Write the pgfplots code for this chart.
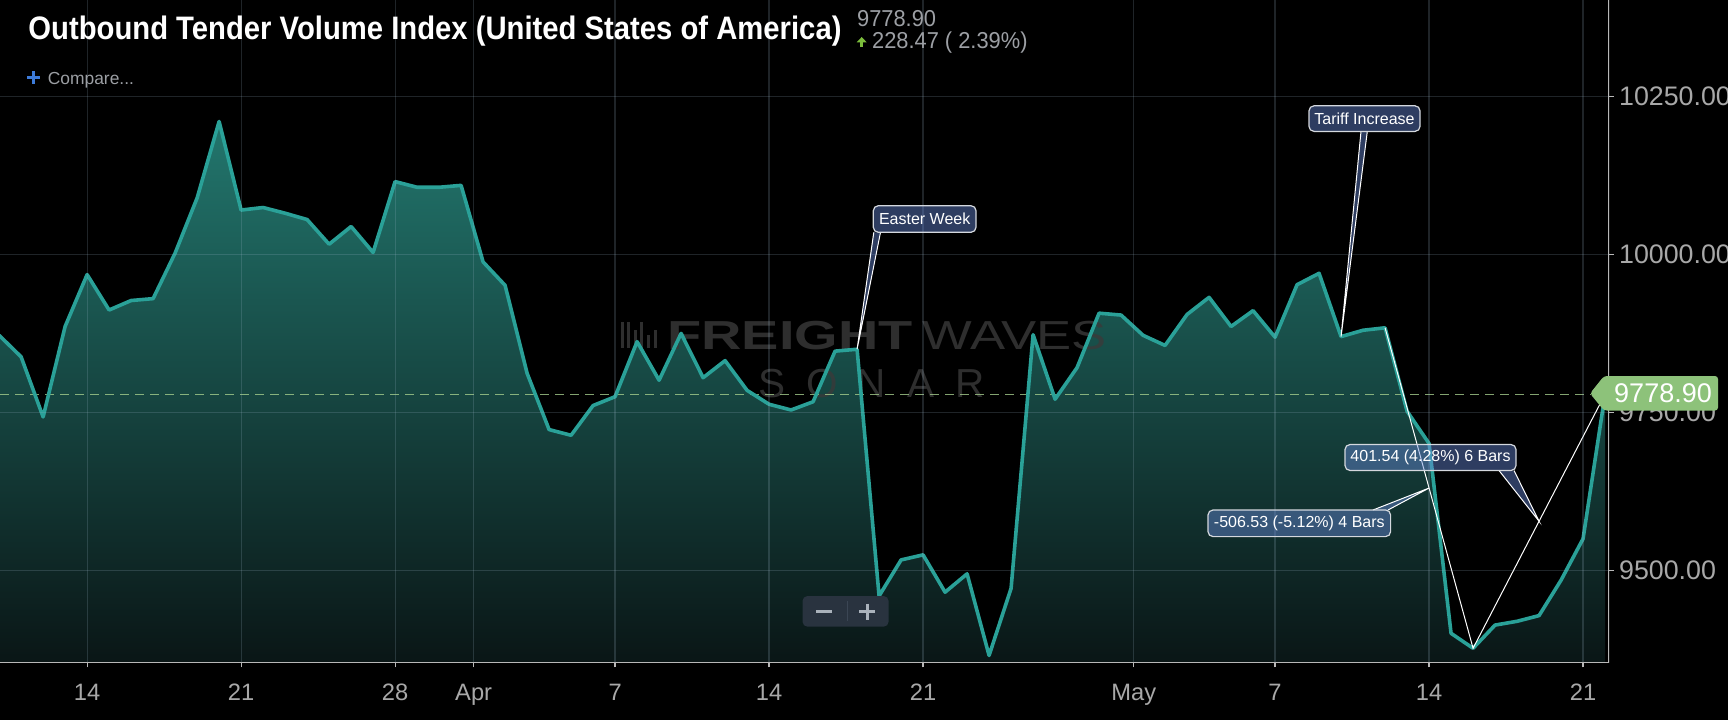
\documentclass[border=0pt]{standalone}
\usepackage{pgfplots}
\pgfplotsset{compat=1.18}
\usepackage{pgfplotstable}
\usepackage{fontspec}
\setmainfont{Liberation Sans}
\newfontfamily\titlefont[FakeStretch=0.90]{Liberation Sans}
\newfontfamily\hdrfont[FakeStretch=0.95]{Liberation Sans}
\newfontfamily\wmfontb[FakeStretch=1.38]{Liberation Sans}
\newfontfamily\wmfontr[FakeStretch=1.3]{Liberation Sans}

\definecolor{linec}{HTML}{2AA198}
\definecolor{fillTop}{HTML}{22766D}
\definecolor{fillBot}{HTML}{0A1616}
\definecolor{gridc}{HTML}{9FB8CC}
\definecolor{axisc}{HTML}{B8B8B8}
\definecolor{tickc}{HTML}{A8A8A8}
\definecolor{annot}{HTML}{6888D8}
\definecolor{annborder}{HTML}{D4D8DE}
\definecolor{priceg}{HTML}{8DC27A}
\definecolor{dashc}{HTML}{A4CC8C}
\definecolor{zoomc}{HTML}{29333F}
\definecolor{zoomsep}{HTML}{3B4654}
\definecolor{zoomsym}{HTML}{AAB2BB}
\definecolor{hdrgray}{HTML}{9C9FA4}
\definecolor{upgreen}{HTML}{7CBD3C}
\definecolor{compblue}{HTML}{3D7BD9}
\definecolor{wmc}{HTML}{3A3A3A}

\pgfplotstableread{
d v
-4 9872
-3 9838
-2 9743
-1 9886
0 9968
1 9912
2 9927
3 9930
4 10002
5 10089
6 10210
7 10070
8 10074
9 10065
10 10055
11 10016
12 10044
13 10003
14 10115
15 10106
16 10106
17 10109
18 9988
19 9951
20 9812
21 9723
22 9714
23 9761
24 9775
25 9862
26 9801
27 9875
28 9805
29 9832
30 9785
31 9763
32 9754
33 9767
34 9847
35 9850
36 9460
37 9517
38 9525
39 9466
40 9495
41 9366
42 9472
43 9873
44 9771
45 9821
46 9907
47 9904
48 9872
49 9856
50 9905
51 9932
52 9886
53 9911
54 9869
55 9952
56 9970
57 9870
58 9880
59 9883.89
60 9752
61 9701
62 9401
63 9377.36
64 9414
65 9420
66 9429
67 9485
68 9550.43
69 9778.90
}\mydata

\begin{document}
\begin{tikzpicture}
\path[use as bounding box] (0pt,0pt) rectangle (864pt,360pt);
\fill[black] (0pt,0pt) rectangle (864pt,360pt);
\begin{axis}[
  at={(0pt,28.8pt)}, anchor=south west,
  width=804.5pt, height=331.2pt, scale only axis,
  xmin=-3.96, xmax=69.18, ymin=9355, ymax=10402,
  axis line style={draw=none},
  xtick={0,7,14,17.57,24,31,38,47.58,54,61,68},
  xticklabels={14,21,28,Apr,7,14,21,May,7,14,21},
  ytick={9500,9750,10000,10250},
  yticklabels={9500.00,9750.00,10000.00,10250.00},
  xtick pos=bottom, ytick pos=right, yticklabel pos=right,
  tick align=outside, major tick length=2.5pt,
  tick style={color=axisc, line width=0.6pt},
  grid=major, major grid style={color=gridc, opacity=0.2, line width=0.6pt},
  axis on top,
  xticklabel style={font={\fontsize{11.85pt}{13pt}\selectfont}, text=tickc, anchor=north, inner sep=0pt, yshift=-8.3pt},
  yticklabel style={font={\fontsize{13.4pt}{15pt}\selectfont}, text=tickc, anchor=west, inner sep=0pt, xshift=2.35pt},
]
\addplot[draw=none, top color=fillTop, bottom color=fillBot] table[x=d,y=v]{\mydata} -- (axis cs:69,9355) -- (axis cs:-4,9355) -- cycle;
% watermark
\fill[wmc, opacity=0.8] (axis cs:24.25,9852) rectangle (axis cs:24.39,9893);
\fill[wmc, opacity=0.8] (axis cs:24.55,9852) rectangle (axis cs:24.69,9893);
\fill[wmc, opacity=0.8] (axis cs:24.85,9852) rectangle (axis cs:24.99,9880);
\fill[wmc, opacity=0.8] (axis cs:25.15,9852) rectangle (axis cs:25.29,9893);
\fill[wmc, opacity=0.8] (axis cs:25.45,9852) rectangle (axis cs:25.59,9872);
\fill[wmc, opacity=0.8] (axis cs:25.75,9852) rectangle (axis cs:25.89,9880);
\node[anchor=base west, inner sep=0pt, text=wmc, opacity=0.8] at (axis cs:26.36,9850.3) {\wmfontb\bfseries\fontsize{20.25pt}{22pt}\selectfont FREIGHT};
\node[anchor=base west, inner sep=0pt, text=wmc, opacity=0.8] at (axis cs:37.95,9850.3) {\wmfontr\fontsize{20.25pt}{22pt}\selectfont WAVES};
\node[anchor=base, inner sep=0pt, text=wmc, opacity=0.8] at (axis cs:31.13,9774.4) {\fontsize{20.25pt}{22pt}\selectfont S};
\node[anchor=base, inner sep=0pt, text=wmc, opacity=0.8] at (axis cs:33.40,9774.4) {\fontsize{20.25pt}{22pt}\selectfont O};
\node[anchor=base, inner sep=0pt, text=wmc, opacity=0.8] at (axis cs:35.63,9774.4) {\fontsize{20.25pt}{22pt}\selectfont N};
\node[anchor=base, inner sep=0pt, text=wmc, opacity=0.8] at (axis cs:37.90,9774.4) {\fontsize{20.25pt}{22pt}\selectfont A};
\node[anchor=base, inner sep=0pt, text=wmc, opacity=0.8] at (axis cs:40.13,9774.4) {\fontsize{20.25pt}{22pt}\selectfont R};
\addplot[dashc, line width=0.6pt, dash pattern=on 4.5pt off 3pt, opacity=0.8] coordinates {(-3.96,9778.9) (68.32,9778.9)};
\addplot[linec, line width=1.8pt, line join=round] table[x=d,y=v]{\mydata};
\addplot[white, line width=0.5pt] coordinates {(59,9883.89) (63,9377.36) (69,9778.9)};
\draw[axisc, line width=0.75pt] (rel axis cs:0,0) -- (rel axis cs:1,0) -- (rel axis cs:1,1);
\coordinate (p35) at (axis cs:35,9850);
\coordinate (p57) at (axis cs:57,9870);
\coordinate (m1) at (axis cs:61,9630.6);
\coordinate (m2) at (axis cs:66,9578.1);
\end{axis}
\begin{scope}[x=0.5pt,y=-0.5pt,yshift=360pt]
% title
\node[anchor=base west, inner sep=0pt, text=white] at (28,39.3) {\titlefont\bfseries\fontsize{16.25pt}{19pt}\selectfont Outbound Tender Volume Index (United States of America)};
\node[anchor=base west, inner sep=0pt, text=hdrgray] at (856.7,26.7) {\hdrfont\fontsize{11.5pt}{13pt}\selectfont 9778.90};
\fill[upgreen] (856.7,42.3) -- (861.7,37) -- (866.7,42.3) -- cycle;
\fill[upgreen] (860.3,42) rectangle (863.1,47.3);
\node[anchor=base west, inner sep=0pt, text=hdrgray] at (871.7,48.3) {\hdrfont\fontsize{11.5pt}{13pt}\selectfont 228.47 ( 2.39\%)};
\draw[compblue, line width=1.25pt] (27,77.5) -- (40,77.5) (33.5,71) -- (33.5,84);
\node[anchor=base west, inner sep=0pt, text=hdrgray] at (47.5,84.5) {\fontsize{8.7pt}{10pt}\selectfont Compare...};
% zoom control
\fill[zoomc, rounded corners=2.5pt] (802.5,596) rectangle (888.6,626.7);
\draw[zoomsep, line width=0.6pt] (847.5,601) -- (847.5,621);
\draw[zoomsym, line width=1.5pt] (816,611.5) -- (832,611.5);
\draw[zoomsym, line width=1.5pt] (859,611.5) -- (875,611.5) (867,603.5) -- (867,619.5);
% annotations
\tikzset{annbox/.style={fill=annot, fill opacity=0.45, draw=annborder, draw opacity=1, line width=0.6pt, rounded corners=2.5pt}}
% Easter week
\fill[annot, fill opacity=0.45] (873.8,232.3) -- (p35) -- (880.5,232.3) -- cycle;
\draw[white, line width=0.5pt] (873.8,232.3) -- (p35) -- (880.5,232.3);
\draw[annbox] (873.3,205.7) rectangle (976,232.3);
\node[text=white, inner sep=0pt] at (924.7,219.2) {\fontsize{8pt}{9pt}\selectfont Easter Week};
% Tariff
\fill[annot, fill opacity=0.45] (1361,131.4) -- (p57) -- (1367.3,131.4) -- cycle;
\draw[white, line width=0.5pt] (1361,131.4) -- (p57) -- (1367.3,131.4);
\draw[annbox] (1309,105.8) rectangle (1420,131.4);
\node[text=white, inner sep=0pt] at (1364.5,118.8) {\fontsize{8pt}{9pt}\selectfont Tariff Increase};
% measure 1
\fill[annot, fill opacity=0.45] (1373,510) -- (m1) -- (1388,510) -- cycle;
\draw[white, line width=0.5pt] (1373,510) -- (m1) -- (1388,510);
\draw[annbox] (1208,510) rectangle (1390.6,536.6);
\node[text=white, inner sep=0pt] at (1299.3,523.5) {\fontsize{8pt}{9pt}\selectfont -506.53 (-5.12\%) 4 Bars};
% measure 2
\fill[annot, fill opacity=0.45] (1499,470.5) -- (m2) -- (1514,470.5) -- cycle;
\draw[white, line width=0.5pt] (1499,470.5) -- (m2) -- (1514,470.5);
\draw[annbox] (1345,444.5) rectangle (1516,470.5);
\node[text=white, inner sep=0pt] at (1430.5,457.7) {\fontsize{8pt}{9pt}\selectfont 401.54 (4.28\%) 6 Bars};
% price label
\fill[priceg, rounded corners=1.5pt] (1590,393.5) -- (1604,376) -- (1718,376) -- (1718,410.5) -- (1604,410.5) -- cycle;
\node[text=white, inner sep=0pt] at (1663,393.5) {\fontsize{13.5pt}{14pt}\selectfont 9778.90};
\end{scope}
\end{tikzpicture}
\end{document}
